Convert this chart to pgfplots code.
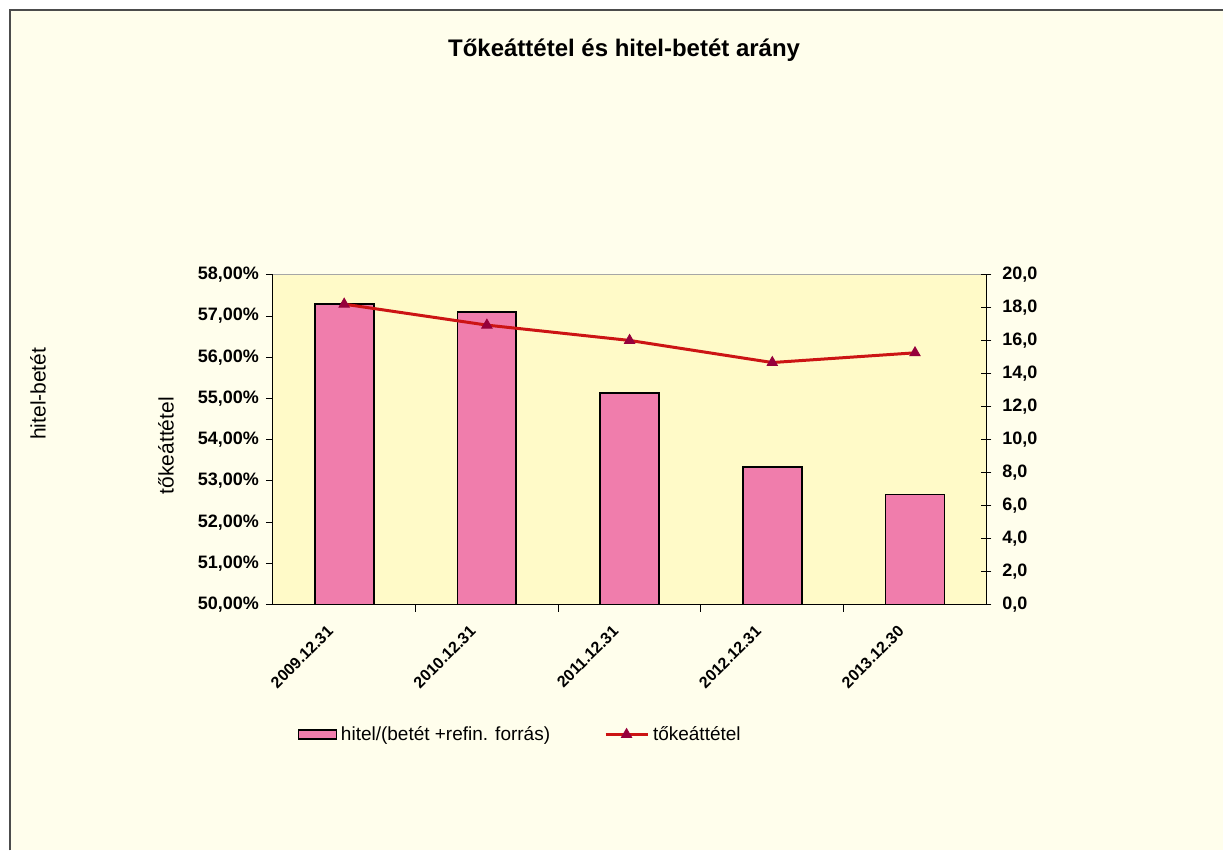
\documentclass[border=0pt]{standalone}
\usepackage{fontspec}
\setmainfont{Liberation Sans}
\usepackage{pgfplots}
\pgfplotsset{compat=1.18}
\definecolor{outerbg}{RGB}{255,254,236}
\definecolor{plotbg}{RGB}{255,250,200}
\definecolor{barpink}{RGB}{240,125,172}
\definecolor{linered}{RGB}{204,20,20}
\definecolor{markmaroon}{RGB}{150,0,60}
\pgfplotsset{
  barlegend/.style={legend image code/.code={\draw[##1,line width=0.7pt] (0pt,-2.25pt) rectangle (19pt,2.25pt);}},
  linelegend/.style={legend image code/.code={\draw[mark repeat=2,mark phase=2,##1] plot coordinates {(0pt,0pt) (10.5pt,0pt) (21pt,0pt)};}},
}
\begin{document}
\begin{tikzpicture}
\fill[white] (0,0) rectangle (612pt,425.5pt);
\fill[outerbg] (5pt,0) rectangle (612pt,420.5pt);
\draw[line width=0.8pt, black!70] (5pt,0) -- (5pt,420.5pt) -- (612pt,420.5pt);
\node[font=\fontsize{12}{14}\selectfont\bfseries] at (312.25pt,400.5pt) {Tőkeáttétel és hitel-betét arány};
\node[rotate=90, font=\fontsize{10.5}{12}\selectfont] at (19pt,228.5pt) {hitel-betét};
\node[rotate=90, font=\fontsize{10.5}{12}\selectfont] at (83pt,202.5pt) {tőkeáttétel};

\begin{axis}[at={(136.5pt,123pt)}, anchor=south west,
  width=357pt, height=165pt, scale only axis,
  xmin=-0.5, xmax=4.5, ymin=50, ymax=58,
  axis x line*=bottom, axis y line*=left,
  axis line style={-, black, line width=0.6pt},
  axis background/.style={fill=plotbg},
  xtick={0.5,1.5,2.5,3.5}, xticklabels={},
  ytick={50,51,...,58},
  yticklabels={{50,00\%},{51,00\%},{52,00\%},{53,00\%},{54,00\%},{55,00\%},{56,00\%},{57,00\%},{58,00\%}},
  yticklabel style={font=\fontsize{9}{10}\selectfont\bfseries},
  tick align=outside, major tick length=3.5pt,
  tick style={black, line width=0.5pt},
  legend columns=2,
  legend style={at={(0.348,-0.394)}, anchor=center, draw=none, fill=none,
    font=\fontsize{9.5}{11}\selectfont,
    /tikz/every even column/.append style={column sep=25pt}},
]
\addplot[ybar, bar width=29.5pt, fill=barpink, draw=black, line width=0.9pt, barlegend]
  coordinates {(0,57.29) (1,57.10) (2,55.13) (3,53.34) (4,52.67)};
\addlegendentry{hitel/(betét +refin. forrás)}
\addlegendimage{linered, line width=1.5pt, mark=triangle*, mark size=3pt,
  mark options={fill=markmaroon, draw=markmaroon, line width=0.4pt}, linelegend}
\addlegendentry{tőkeáttétel}
\draw[gray!70, line width=0.4pt] (rel axis cs:0,1) -- (rel axis cs:1,1);
\end{axis}

\begin{axis}[at={(136.5pt,123pt)}, anchor=south west,
  width=357pt, height=165pt, scale only axis,
  xmin=-0.5, xmax=4.5, ymin=0, ymax=20,
  axis x line*=bottom, axis y line*=right,
  x axis line style={draw=none},
  y axis line style={-, black, line width=0.6pt},
  xtick={0,1,2,3,4},
  xticklabels={2009.12.31,2010.12.31,2011.12.31,2012.12.31,2013.12.30},
  xtick style={draw=none},
  xticklabel style={font=\fontsize{8}{9}\selectfont\bfseries, xshift=-9pt, yshift=-2.5pt, rotate=45, anchor=north east},
  ytick={0,2,...,20},
  yticklabels={{0,0},{2,0},{4,0},{6,0},{8,0},{10,0},{12,0},{14,0},{16,0},{18,0},{20,0}},
  yticklabel style={font=\fontsize{9}{10}\selectfont\bfseries, xshift=2pt},
  ytick style={black, line width=0.5pt},
  tick align=center, major tick length=5pt,
]
\addplot[linered, line width=1.5pt, mark=triangle*, mark size=3pt,
  mark options={fill=markmaroon, draw=markmaroon, line width=0.4pt}]
  coordinates {(0,18.22) (1,16.95) (2,16.02) (3,14.68) (4,15.27)};
\end{axis}
\end{tikzpicture}
\end{document}
